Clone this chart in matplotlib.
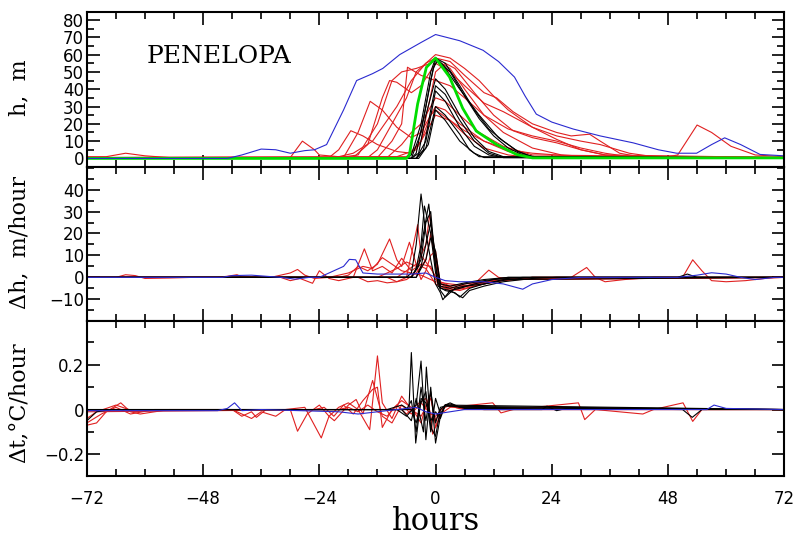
"""
PENELOPA: height, height change and temperature change around the event
"""

import matplotlib
matplotlib.use("Agg")
import matplotlib.pyplot as plt
import matplotlib.ticker as mt

# ---- data: (hour, value) pairs ----

# h, m
h_blue = [(-72, 0), (-43, 0), (-40, 2), (-36, 5.4), (-33, 5), (-30, 3), (-27, 4.5),
          (-25, 5), (-22.5, 8), (-19, 28), (-16.3, 45), (-13, 49), (-10.9, 52),
          (-7.4, 60), (-3, 67), (0, 71.6), (5, 68), (9.8, 62.5), (13, 56), (16.3, 47),
          (18.5, 36), (20.8, 25.6), (24, 21), (28.4, 17), (34, 13), (40.8, 9),
          (46, 5), (49.8, 3), (53.9, 3), (57, 8), (59.7, 11.9), (63, 8), (67, 2.3), (72, 1.5)]

h_green = [(-72, 0), (-6, 0), (-5.4, 2), (-3.7, 31.5), (-1.9, 52.6), (0, 58), (2.9, 47),
           (5.6, 29), (8.4, 15.8), (12.6, 8), (16.7, 2.3), (20, 0.3), (72, 0.3)]

h_red = [
    [(-72, 1), (-68, 1), (-64, 3), (-60, 1.5), (-55, 0.5), (-20, 0.5), (-16, 2), (-12, 20),
     (-9, 45), (-7, 50), (-4, 52), (-1, 55), (0, 57), (3, 52), (6, 40), (10, 25), (14, 15),
     (20, 6), (26, 2), (35, 0.5), (72, 0.5)],
    [(-72, 0.5), (-30, 0.5), (-27.5, 10), (-25, 5), (-24, 2), (-20, 1), (-17, 3), (-13, 10),
     (-8, 30), (-5, 45), (-2, 55), (0, 60), (3, 58), (6, 52), (9, 45), (12, 36), (15, 28),
     (20, 18), (25, 11), (30, 5), (35, 2), (40, 1), (72, 0.5)],
    [(-72, 0.5), (-22, 0.5), (-20, 5), (-17.5, 16), (-15, 13), (-12, 8), (-8, 4), (-5, 3),
     (-3, 10), (-1, 25), (0, 28), (3, 22), (6, 14), (10, 6), (15, 2), (20, 0.5), (72, 0.5)],
    [(-72, 0.5), (-19, 0.5), (-16, 15), (-13.5, 33), (-11, 28), (-8, 18), (-5, 12), (-3, 15),
     (0, 30), (2, 28), (5, 20), (10, 10), (15, 4), (20, 1), (72, 0.5)],
    [(-72, 0.3), (-17, 0.5), (-14, 8), (-11, 35), (-9.5, 45), (-8, 44), (-5, 38), (-3, 42),
     (0, 55), (3, 50), (6, 42), (10, 32), (14, 27), (20, 18), (25, 13), (30, 10), (34, 8),
     (40, 3), (45, 1), (72, 0.5)],
    [(-72, 0.5), (-14, 0.5), (-12, 5), (-9, 20), (-6, 35), (-4, 50), (-2, 55), (0, 58),
     (3, 56), (6, 48), (10, 38), (12.6, 35), (16, 27), (20, 20), (25, 15), (28, 13),
     (31.8, 14), (34, 10), (38, 3), (42, 1), (72, 0.5)],
    [(-72, 0.5), (-10, 0.5), (-7, 8), (-5, 15), (-3, 20), (-1, 30), (0, 35), (2, 33),
     (5, 25), (9, 15), (14, 7), (20, 2), (72, 0.5)],
    [(-72, 0.5), (-8, 1), (-4, 5), (-1, 20), (0, 25), (3, 22), (6, 16), (10, 10), (15, 5),
     (20, 3), (25, 2), (30, 1), (48, 1), (50, 2), (54, 19.3), (57, 15), (61, 7), (66, 2),
     (72, 1)],
    [(-72, 0.5), (-12, 0.5), (-9, 10), (-7, 20), (-5.8, 52.7), (-3, 48), (0, 45), (3, 42),
     (6, 35), (10, 25), (15, 17), (20, 13), (25, 10), (30, 6), (35, 3), (40, 1), (72, 0.5)],
    [(-72, 0.5), (-6, 1), (-3, 10), (0, 50), (2, 55), (4, 52), (8, 38), (12, 25), (16, 16),
     (20, 12), (25, 9), (30, 5), (35, 2), (72, 0.5)],
]

h_black = [
    [(-72, 0), (-6, 0), (-5, 2), (-3, 20), (-1, 50), (0, 58), (2, 55), (5, 42), (8, 28),
     (11, 17), (14, 10), (17, 4), (20, 1), (25, 0.3), (72, 0.3)],
    [(-72, 0), (-5, 0), (-4, 3), (-2, 30), (-0.5, 52), (0.5, 57), (3, 50), (6, 36), (9, 23),
     (12, 13), (15, 6), (18, 2), (22, 0.5), (72, 0.3)],
    [(-72, 0), (-5, 0), (-3.5, 3), (-2, 25), (0, 46), (2, 40), (5, 25), (8, 12), (11, 4),
     (14, 1), (72, 0.3)],
    [(-72, 0), (-4, 0), (-2.5, 5), (-1, 28), (0, 42), (2, 37), (5, 22), (8, 10), (11, 3),
     (14, 0.5), (72, 0.3)],
    [(-72, 0), (-4, 0), (-2, 10), (0, 39), (2, 33), (5, 18), (8, 7), (11, 2), (14, 0.5), (72, 0.3)],
    [(-72, 0), (-4, 0), (-2, 6), (0, 30), (2, 25), (5, 14), (7, 5), (9, 1), (72, 0.3)],
    [(-72, 0), (-3.5, 0), (-1.5, 8), (0, 28), (2, 22), (5, 10), (8, 3), (10, 0.5), (72, 0.3)],
    [(-72, 0), (-5, 0), (-3, 15), (-1, 45), (0, 57), (2, 52), (5, 40), (9, 25), (13, 12),
     (17, 4), (20, 1), (72, 0.3)],
]

# dh, m/hour
dh_blue = [(-72, 0), (-44, 0), (-42, 0.8), (-38, 1), (-35, 0.5), (-32, 0), (-29, -0.8),
           (-26, 0), (-24, 0), (-22, 2), (-20, 4), (-19, 5), (-17.8, 8.2), (-16.5, 8),
           (-15, 2), (-12, 1.5), (-8, 1.5), (-5, 1.5), (-2, 2), (0, 0), (2, -1.5), (5, -2),
           (10, -2), (14, -3), (18, -5.4), (20, -3), (24, -1), (30, 0), (50, 0), (54, 1),
           (57, 2.1), (60, 1.5), (63, 0), (66, -1), (70, 0), (72, 0)]

dh_red = [
    [(-72, 0), (-66, 0), (-64, 1.2), (-62, 0.8), (-60, -0.5), (-55, -0.3), (-50, 0), (-45, 0),
     (-43, 0.5), (-41, 1.2), (-40, 0.2), (-34, 0), (-30, 2), (-28.5, 3.6), (-27, 1),
     (-25, -0.5), (-22, 0), (-18, 2), (-15, 5), (-13, 4), (-11, 9), (-9, 6), (-7, 3),
     (-5, 2), (-3, 1), (0, -2), (3, -3), (7, -4), (11, -2), (15, -1), (20, 0), (72, 0)],
    [(-72, 0), (-32, 0), (-30, -1.5), (-28, -0.5), (-25.4, -2.7), (-24, 3), (-22, -0.5),
     (-20, -1.5), (-17, 0), (-14.7, 13), (-13, 3), (-11, 5), (-9, 2), (-7, 8.7), (-5, 3),
     (-3, 6), (-1, 5), (0, -1), (2, -4), (5, -5), (8, -3), (11, 3.3), (13, 0), (16, -1),
     (20, 0), (72, 0)],
    [(-72, 0), (-20, 0), (-18, 1), (-16, 5), (-14, 3), (-12, 6), (-9.5, 17.5), (-8, 8),
     (-7, 5), (-5.4, 16), (-4, 6), (-2, 4), (0, -3), (2, -5), (5, -6), (8, -4), (12, -2),
     (16, -0.5), (72, 0)],
    [(-72, 0), (-16, 0), (-14, -2), (-12, -1.5), (-10, -2.5), (-8, -2), (-6, 0), (-3.7, 24),
     (-3, 10), (-1, 4), (1, -3), (4, -5), (8, -3), (12, -1.5), (18, -0.5), (25, 0), (28, 0),
     (31.2, 4.5), (33, 0), (35, -2), (39, -1), (45, 0), (51, 0), (53.1, 8), (55, 3),
     (57, -1.5), (60, -2), (64, -1.5), (68, -0.5), (72, 0)],
    [(-72, 0), (-12, 0), (-10, 2), (-8, 4), (-6, 7), (-4, 5), (-2, 15), (-1.2, 29), (0, 8),
     (1, -4), (3, -6), (6, -5), (10, -3), (14, -1.5), (20, -0.5), (72, 0)],
    [(-72, 0), (-10, 0), (-8, -2), (-6, -1), (-4, 2), (-2, 8), (-1, 20), (0, 6), (1, -2),
     (3, -4), (6, -3), (10, -2), (16, -1), (72, 0)],
    [(-72, 0), (-8, 0), (-6, 3), (-4, 6), (-3, -1), (-2, 3), (-1, 10), (0, 12), (1, -3),
     (3, -5), (6, -4), (10, -2), (15, -1), (72, 0)],
]

dh_black = [
    [(-72, 0), (-6, 0), (-5, 2), (-4, 15), (-3, 38), (-2, 20), (-1, 8), (0, -3), (1, -7),
     (1.5, -10.2), (3, -6), (5.6, -9.3), (7, -6), (10, -4), (14, -2), (20, -0.5), (25, 0),
     (50, 0), (52, 1.5), (54, 0), (72, 0)],
    [(-72, 0), (-5, 0), (-4, 4), (-3, 15), (-2.3, 32.5), (-1, 20), (0, 2), (1, -6), (2, -9),
     (3, -7), (4, -5), (6, -4), (10, -3), (15, -1), (20, 0), (72, 0)],
    [(-72, 0), (-5, 0), (-3.5, 5), (-2.5, 20), (-1.4, 33.4), (-0.5, 15), (0.5, -4), (2, -6),
     (4, -7), (5, -9), (7, -5), (10, -3), (14, -1), (72, 0)],
    [(-72, 0), (-5, 0), (-3, 8), (-2, 25), (-1, 30), (0, 5), (1, -5), (3, -6), (5, -5),
     (8, -3), (12, -1), (18, 0), (72, 0)],
    [(-72, 0), (-4, 0), (-3, 5), (-2, 15), (-1, 25), (0, 10), (1, -4), (3, -5), (6, -3),
     (10, -1.5), (15, 0), (72, 0)],
    [(-72, 0), (-4, 0), (-2, 8), (-1, 18), (0, 12), (1, -3), (3, -4), (6, -2.5), (10, -1),
     (15, 0), (72, 0)],
]

# dt, C/hour
dt_blue = [(-72, -0.005), (-45, -0.005), (-43, 0.005), (-41.5, 0.03), (-40, -0.005),
           (-36, 0), (-20, -0.01), (-16, -0.02), (-12, -0.01), (-8, 0), (-4, 0.01),
           (-2, -0.01), (0, -0.02), (3, -0.01), (6, 0), (56, 0), (57.5, 0.02), (60, 0.005),
           (72, 0)]

dt_red = [
    [(-72, -0.07), (-70, -0.06), (-68, -0.01), (-65, 0.03), (-63, -0.01), (-61, -0.02),
     (-58, -0.01), (-55, 0), (-42, 0), (-40, -0.03), (-38, -0.01), (-37, -0.035), (-35, 0),
     (-30, 0), (-28.5, -0.097), (-26.5, -0.02), (-24, 0.02), (-22, -0.03), (-20, 0.01),
     (-18, 0.03), (-16, 0), (-13.6, -0.09), (-12, 0.24), (-11, 0.03), (-9, -0.04),
     (-7, 0.06), (-5, 0), (-3, -0.03), (-1, 0.05), (0, -0.05), (1, 0), (3, 0.02),
     (6, 0.01), (72, 0)],
    [(-72, -0.06), (-69, -0.02), (-66, 0.01), (-63, -0.02), (-58, 0), (-42, 0), (-40, -0.02),
     (-38, -0.04), (-36, -0.01), (-33, -0.03), (-31, 0), (-27, 0.01), (-23.6, -0.127),
     (-22, -0.03), (-20.9, -0.05), (-18, 0.02), (-16.4, 0.045), (-15, -0.02), (-13, 0.13),
     (-11, -0.03), (-9, -0.06), (-7, 0.02), (-5, -0.02), (-3, 0.03), (-1, -0.02),
     (-0.6, -0.11), (1, -0.02), (3, 0.01), (11.8, 0.03), (13.5, -0.015), (16, 0),
     (29.5, 0.03), (30.8, -0.045), (33, 0), (42.8, -0.02), (45, 0), (51.1, 0.03),
     (53.1, -0.053), (55, 0), (72, 0)],
    [(-72, -0.04), (-70, -0.01), (-66, 0.02), (-62, -0.01), (-58, 0), (-25, 0), (-23, 0.01),
     (-21, -0.03), (-19, 0.02), (-17, -0.02), (-15, 0.04), (-13, 0.09), (-12, 0.1),
     (-11, -0.08), (-9, 0), (-7, 0.04), (-5, 0.01), (-3, -0.06), (-2, 0.02), (-1, 0.07),
     (0, -0.08), (1, -0.03), (2, 0.02), (4, 0.01), (6, 0), (72, 0)],
    [(-72, -0.01), (-20, 0), (-18, 0.01), (-16, -0.01), (-14, 0.02), (-12, -0.01),
     (-10, -0.03), (-8, 0.02), (-6, -0.02), (-4, 0.02), (-2, 0.05), (-1, -0.02), (0, -0.03),
     (2, 0.02), (5, 0.005), (10, 0), (72, 0)],
]

dt_black = [
    [(-72, -0.05), (-70, -0.01), (-67, 0), (-10, 0), (-7, 0.02), (-5.5, 0), (-5, 0.255),
     (-4.1, -0.15), (-3, 0.05), (-2, 0.03), (-1, -0.05), (0, -0.01), (1, -0.04), (2, 0.02),
     (3, 0.03), (5, 0.01), (10, 0), (22, 0), (23, 0.015), (25, -0.005), (27, 0.005),
     (51, 0), (53, -0.035), (55, 0), (72, 0)],
    [(-72, 0), (-8, 0), (-6, -0.03), (-4, 0.02), (-3, 0.217), (-2, -0.135), (-1, 0.1),
     (0, -0.15), (1, -0.03), (2, 0.02), (3, 0.025), (6, 0.005), (72, 0)],
    [(-72, 0), (-7, 0), (-5, -0.05), (-4, 0.05), (-2.5, -0.1), (-1.9, 0.19), (-1, -0.08),
     (0, -0.12), (1, 0), (2, 0.02), (5, 0.01), (72, 0)],
    [(-72, 0), (-6, 0), (-5, 0.04), (-4, -0.1), (-3, 0.1), (-2, -0.05), (-1, 0.08),
     (0, -0.06), (1, 0.01), (2, 0.015), (72, 0)],
    [(-72, 0), (-5, 0), (-4, -0.06), (-3, 0.03), (-2, 0.08), (-1, -0.1), (0, 0.05),
     (1, -0.02), (2, 0.02), (72, 0)],
]

RED = "#e02020"
BLUE = "#2a2ad0"


def draw(ax, series, color, lw=0.8):
    for s in series:
        t = [p[0] for p in s]
        v = [p[1] for p in s]
        ax.plot(t, v, color=color, lw=lw)


fig, axes = plt.subplots(3, 1, sharex=True, figsize=(7.97, 5.39), dpi=100,
                         gridspec_kw=dict(hspace=0))
fig.subplots_adjust(left=0.109, right=0.984, top=0.978, bottom=0.117)
ax1, ax2, ax3 = axes

draw(ax1, h_red, RED)
draw(ax1, h_black, "black")
draw(ax1, [h_green], "#00dd00", lw=2.0)
draw(ax1, [h_blue], BLUE)

draw(ax2, dh_red, RED)
draw(ax2, dh_black, "black")
draw(ax2, [dh_blue], BLUE)

draw(ax3, dt_red, RED)
draw(ax3, dt_black, "black")
draw(ax3, [dt_blue], BLUE)

ax1.set_ylim(-4.7, 84.7)
ax2.set_ylim(-20, 50.5)
ax3.set_ylim(-0.297, 0.395)
ax3.set_xlim(-72, 72)

ax1.yaxis.set_major_locator(mt.FixedLocator(range(0, 81, 10)))
ax1.yaxis.set_minor_locator(mt.MultipleLocator(5))
ax2.yaxis.set_major_locator(mt.FixedLocator(range(-10, 41, 10)))
ax2.yaxis.set_minor_locator(mt.MultipleLocator(5))
ax3.yaxis.set_major_locator(mt.FixedLocator([-0.2, 0, 0.2]))
ax3.yaxis.set_minor_locator(mt.MultipleLocator(0.1))
ax3.xaxis.set_major_locator(mt.MultipleLocator(24))
ax3.xaxis.set_minor_locator(mt.MultipleLocator(6))

fmt = mt.FuncFormatter(lambda v, p: ("%g" % v).replace("-", "\u2212"))
for ax in axes:
    ax.yaxis.set_major_formatter(fmt)
    ax.tick_params(which="both", direction="in", top=True, right=True, width=1.2,
                   labelsize=12, pad=2)
    ax.tick_params(which="major", length=9)
    ax.tick_params(which="minor", length=5)
    for sp in ax.spines.values():
        sp.set_linewidth(1.5)
ax3.xaxis.set_major_formatter(fmt)
ax3.tick_params(axis="x", pad=10)

ax1.text(-59.7, 59, "PENELOPA", family="DejaVu Serif", fontsize=18, va="center")

lab = dict(family="DejaVu Serif", fontsize=16, rotation=90, ha="center", va="center")
fig.text(19 / 797, 1 - 88 / 539, "h,  m", **lab)
fig.text(19 / 797, 1 - 242 / 539, "\u0394h,  m/hour", **lab)
fig.text(19 / 797, 1 - 403 / 539, "\u0394t,\u00b0C/hour", **lab)
fig.text(436 / 797, 1 - 522 / 539, "hours", family="DejaVu Serif", fontsize=22,
         ha="center", va="center")

fig.savefig("out.png", dpi=100)
